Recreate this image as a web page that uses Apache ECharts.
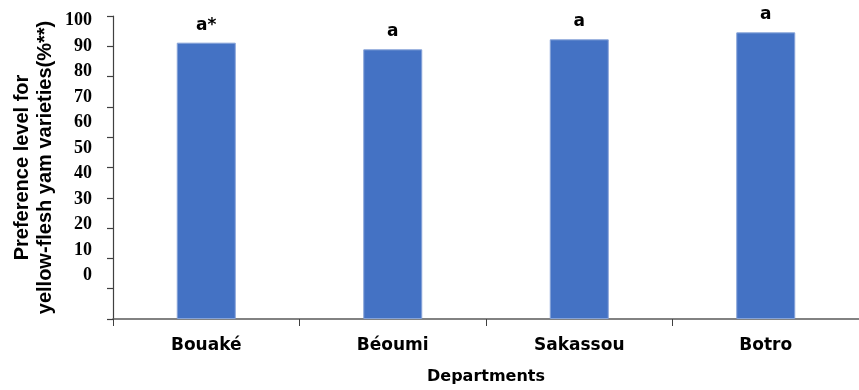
<!DOCTYPE html>
<html>
<head>
<meta charset="utf-8">
<script src="https://cdn.jsdelivr.net/npm/echarts@6/dist/echarts.min.js"></script>
<style>
  html, body { margin: 0; padding: 0; background: #ffffff; }
  #chart { width: 859px; height: 390px; }
</style>
</head>
<body>
<div id="chart"></div>
<script>
// Preference for yellow-flesh yam varieties by department
const departments = ['Bouaké', 'Béoumi', 'Sakassou', 'Botro'];
const preference = [91.2, 89.0, 92.3, 94.6];
const sigLetters = ['a*', 'a', 'a', 'a'];
const yTickLabels = [0, 10, 20, 30, 40, 50, 60, 70, 80, 90, 100];

const chart = echarts.init(document.getElementById('chart'), null, { renderer: 'canvas' });

const axisColor = '#404040';
const sansBold = { fontFamily: 'DejaVu Sans', fontWeight: 'bold', color: '#000000' };

chart.setOption({
  animation: false,
  backgroundColor: '#ffffff',
  grid: { left: 113, right: -9, top: 16, bottom: 69, containLabel: false },
  xAxis: {
    type: 'category',
    data: departments,
    axisLine: { show: true, lineStyle: { color: '#595959', width: 1.5 } },
    axisTick: { show: true, length: 7, lineStyle: { color: axisColor, width: 1 } },
    axisLabel: Object.assign({ fontSize: 17, margin: 18 }, sansBold),
    name: 'Departments',
    nameLocation: 'middle',
    nameGap: 50,
    nameTextStyle: Object.assign({ fontSize: 16 }, sansBold),
    splitLine: { show: false }
  },
  yAxis: [
    {
      // Scale axis carrying the bars, ticks every 10 %
      type: 'value',
      min: 0,
      max: 100,
      interval: 10,
      axisLine: { show: true, lineStyle: { color: axisColor, width: 1.2 } },
      axisTick: { show: true, length: 6, lineStyle: { color: axisColor, width: 1.2 } },
      axisLabel: { show: false },
      splitLine: { show: false },
      name: 'Preference level for\nyellow-flesh yam varieties(%**)',
      nameLocation: 'middle',
      nameRotate: 90,
      nameGap: 56,
      nameTextStyle: {
        fontFamily: 'Liberation Sans', fontWeight: 'bold', fontSize: 20,
        lineHeight: 23, color: '#000000', align: 'center'
      }
    },
    {
      // Separate label column for the percentage numbers
      type: 'value',
      position: 'left',
      min: -17.17,
      max: 101.88,
      axisLine: { show: false },
      axisTick: { show: false },
      splitLine: { show: false },
      axisLabel: {
        customValues: yTickLabels,
        margin: 21,
        fontFamily: 'Liberation Serif',
        fontWeight: 'bold',
        fontSize: 18,
        color: '#000000'
      }
    }
  ],
  series: [
    {
      type: 'bar',
      data: preference,
      barWidth: 59,
      itemStyle: { color: '#4472C4', borderColor: '#86a3d8', borderWidth: 1 },
      label: {
        show: true,
        position: 'top',
        distance: 9,
        formatter: (p) => sigLetters[p.dataIndex],
        fontFamily: 'DejaVu Sans',
        fontWeight: 'bold',
        fontSize: 17,
        color: '#000000'
      }
    }
  ]
});
</script>
</body>
</html>
